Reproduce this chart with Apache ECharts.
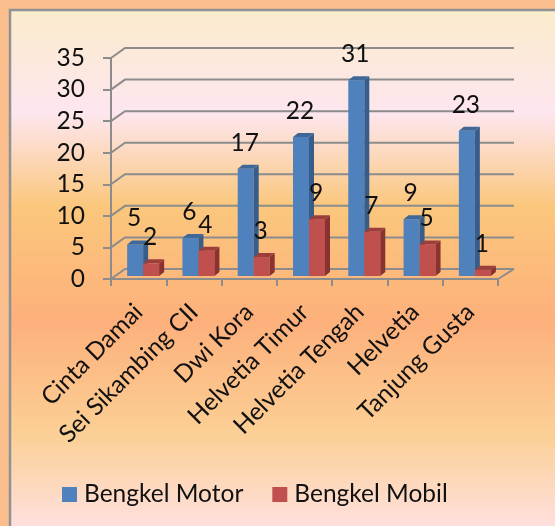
<!DOCTYPE html>
<html><head><meta charset="utf-8">
<style>html,body{margin:0;padding:0;background:#fbbf8e}#c{width:555px;height:526px}</style>
<script src="https://cdn.jsdelivr.net/npm/echarts@6/dist/echarts.min.js"></script>
</head><body><div id="c"></div>
<script>
const categories = ['Cinta Damai','Sei Sikambing CII','Dwi Kora','Helvetia Timur','Helvetia Tengah','Helvetia','Tanjung Gusta'];
const bengkelMotor = [5,6,17,22,31,9,23];
const bengkelMobil = [2,4,3,9,7,5,1];
const yTicks = [0,5,10,15,20,25,30,35];

const FONT = 'Lato';
const DX = 14, DY = 10, GRID = '#8c8c8c';
const chart = echarts.init(document.getElementById('c'), null, {renderer:'canvas'});

function barRenderer(side, front, dark, top) {
  return function (params, api) {
    const cat = api.value(0), val = api.value(1);
    const p = api.coord([cat, val]), b = api.coord([cat, 0]);
    const w = 16, d = 5, h = 4;
    const cx = p[0] + 4.5;
    const x0 = side < 0 ? cx - w : cx, x1 = x0 + w;
    const yt = p[1] - 3, yb = b[1] - 3;
    return {type:'group', children:[
      {type:'rect', shape:{x:x0, y:yt, width:w, height:yb-yt}, style:{fill:front}},
      {type:'polygon', shape:{points:[[x1,yt],[x1+d,yt-h],[x1+d,yb-h],[x1,yb]]}, style:{fill:dark}},
      {type:'polygon', shape:{points:[[x0,yt],[x0+d,yt-h],[x1+d,yt-h],[x1,yt]]}, style:{fill:top}},
      {type:'text', z2:100, style:{text:String(val), x:x0+w/2-1, y:yt-26, align:'center', verticalAlign:'middle',
        font:'24.5px '+FONT, fill:'#111'}}
    ]};
  };
}

chart.setOption({
  animation:false,
  backgroundColor:'#fbbf8e',
  graphic:[{type:'rect', z:-10, silent:true, shape:{x:10,y:10,width:547,height:518},
    style:{stroke:'#8f9295', lineWidth:2.5,
      fill:{type:'linear',x:0,y:0,x2:0,y2:1,colorStops:[
        {offset:0,color:'#fbeccb'},{offset:0.2,color:'#fde6ef'},{offset:0.38,color:'#fbc77c'},
        {offset:0.6,color:'#fdb07b'},{offset:0.82,color:'#fbd096'},{offset:1,color:'#ffe0e0'}]}}}],
  grid:{left:111,right:57,top:58,bottom:247,containLabel:false},
  legend:{left:57,top:477,itemWidth:15,itemHeight:15,itemGap:29,icon:'rect',
    textStyle:{fontFamily:FONT,fontSize:24.5,color:'#111',padding:[0,0,0,2]},
    data:['Bengkel Motor','Bengkel Mobil']},
  xAxis:{type:'category',data:categories,boundaryGap:true,
    axisLine:{lineStyle:{color:GRID,width:2}},
    axisTick:{show:true,length:7,lineStyle:{color:GRID,width:2}},
    axisLabel:{rotate:45,fontFamily:FONT,fontSize:24.5,color:'#111',margin:29,interval:0},
    splitLine:{show:false}},
  yAxis:{type:'value',min:0,max:35,interval:5,
    axisLine:{show:true,lineStyle:{color:GRID,width:2}},
    axisTick:{show:true,length:8,lineStyle:{color:GRID,width:2}},
    axisLabel:{fontFamily:FONT,fontSize:24.5,color:'#111',margin:26},
    splitLine:{show:false}},
  series:[
    {type:'custom',name:'walls',silent:true,z:1,clip:false,legendHoverLink:false,
     data:yTicks.map(v=>[v]),encode:{y:0},
     renderItem(params,api){
       const v=api.value(0);
       const l=api.coord([0,v]);
       const left=params.coordSys.x, right=left+params.coordSys.width;
       const y=l[1];
       const st={stroke:GRID,lineWidth:2,fill:null};
       const kids=[{type:'polyline',shape:{points:[[left,y],[left+DX,y-DY],[right+16,y-DY]]},style:st}];
       if(v===0) kids.push({type:'line',shape:{x1:right,y1:y,x2:right+16,y2:y-DY},style:st});
       return {type:'group',children:kids};
     }},
    {type:'custom',name:'Bengkel Motor',z:2,clip:false,itemStyle:{color:'#4f81bd'},
     data:bengkelMotor.map((v,i)=>[i,v]),encode:{x:0,y:1},
     renderItem:barRenderer(-1,'#4f81bd','#385d8a','#3f6797')},
    {type:'custom',name:'Bengkel Mobil',z:3,clip:false,itemStyle:{color:'#c0504d'},
     data:bengkelMobil.map((v,i)=>[i,v]),encode:{x:0,y:1},
     renderItem:barRenderer(1,'#c0504d','#8a3230','#9c3f3c')}
  ]
});
</script></body></html>
